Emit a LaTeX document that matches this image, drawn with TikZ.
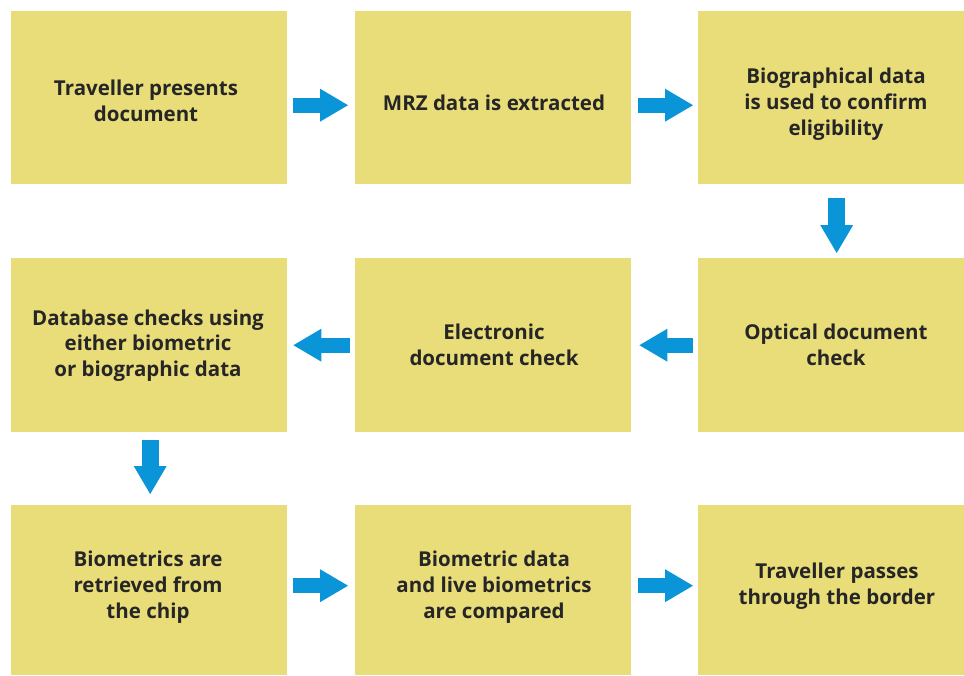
\documentclass[tikz,border=0pt]{standalone}
\usepackage{fontspec}
\setmainfont{Open Sans}
\usetikzlibrary{calc,arrows.meta}

\definecolor{boxfill}{HTML}{E9DD79}
\definecolor{flowblue}{HTML}{0A95D8}
\definecolor{inktext}{HTML}{262626}

\tikzset{
  stagebox/.style={draw=none, fill=boxfill, rectangle, inner sep=0pt, anchor=north west},
  stagetext/.style={align=center, text=inktext, inner sep=0pt,
    font=\fontsize{20.5}{25.8}\selectfont\bfseries},
  flowh/.style={draw=flowblue, line width=15pt,
    -{Triangle[length=28pt, width=33pt, line width=0pt]}},
  flowv/.style={draw=flowblue, line width=17pt,
    -{Triangle[length=28pt, width=33pt, line width=0pt]}},
}

\begin{document}
\begin{tikzpicture}[x=1pt, y=-1pt]
  \useasboundingbox (0,0) rectangle (964,675);

  % stage boxes: three columns, three rows
  \node[stagebox, minimum width=276pt, minimum height=173pt] (a1) at (11,11) {};
  \node[stagebox, minimum width=276pt, minimum height=173pt] (a2) at (355,11) {};
  \node[stagebox, minimum width=266pt, minimum height=173pt] (a3) at (698,11) {};
  \node[stagebox, minimum width=276pt, minimum height=174pt] (b1) at (11,258) {};
  \node[stagebox, minimum width=276pt, minimum height=174pt] (b2) at (355,258) {};
  \node[stagebox, minimum width=266pt, minimum height=174pt] (b3) at (698,258) {};
  \node[stagebox, minimum width=276pt, minimum height=170pt] (c1) at (11,505) {};
  \node[stagebox, minimum width=276pt, minimum height=170pt] (c2) at (355,505) {};
  \node[stagebox, minimum width=266pt, minimum height=170pt] (c3) at (698,505) {};

  % stage labels
  \node[stagetext] (ta1) at (146,101) {Traveller presents\\document};
  \node[stagetext] (ta2) at (494,102.5) {MRZ data is extracted};
  \node[stagetext] (ta3) at (836,104) {Biographical data\\is used to confirm\\eligibility};
  \node[stagetext] (tb1) at (148,345.5) {Database checks using\\either biometric\\or biographic data};
  \node[stagetext] (tb2) at (494,344.5) {Electronic\\document check};
  \node[stagetext] (tb3) at (836,344.5) {Optical document\\check};
  \node[stagetext] (tc1) at (148,587) {Biometrics are\\retrieved from\\the chip};
  \node[stagetext] (tc2) at (494,587) {Biometric data\\and live biometrics\\are compared};
  \node[stagetext] (tc3) at (837,586.5) {Traveller passes\\through the border};

  % flow arrows
  \draw[flowh] ($(a1.east)+(6,7.5)$) -- ($(a2.west)+(-7,7.5)$);
  \draw[flowh] ($(a2.east)+(7,7.5)$) -- ($(a3.west)+(-5,7.5)$);
  \draw[flowv] ($(a3.south)+(5.5,14)$) -- ($(b3.north)+(5.5,-5)$);
  \draw[flowh] ($(b3.west)+(-5,0)$) -- ($(b2.east)+(8,0)$);
  \draw[flowh] ($(b2.west)+(-5,0)$) -- ($(b1.east)+(6,0)$);
  \draw[flowv] ($(b1.south)+(1,8)$) -- ($(c1.north)+(1,-11)$);
  \draw[flowh] ($(c1.east)+(6,-4.5)$) -- ($(c2.west)+(-7,-4.5)$);
  \draw[flowh] ($(c2.east)+(7,-4.5)$) -- ($(c3.west)+(-5,-4.5)$);
\end{tikzpicture}
\end{document}
